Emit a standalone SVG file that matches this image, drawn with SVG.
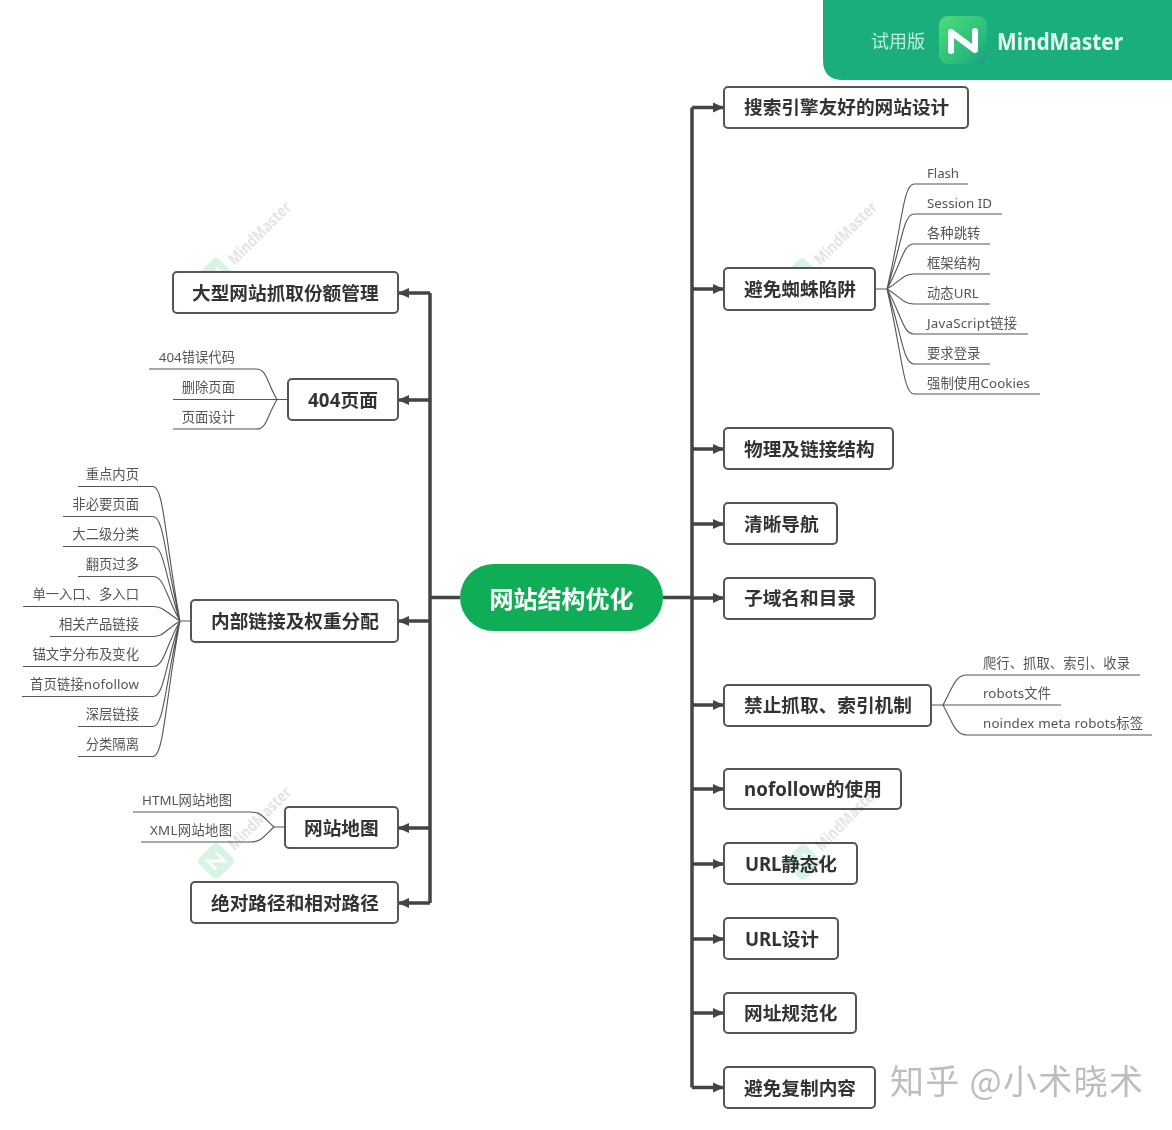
<svg xmlns="http://www.w3.org/2000/svg" width="1172" height="1130" viewBox="0 0 1172 1130">
<style>
text{font-family:"Noto Sans","Noto Sans CJK SC",sans-serif}
.n rect{fill:#fff;stroke:#555;stroke-width:2}
.n text{font-size:18.67px;font-weight:700;fill:#333}
.n text.l{font-size:13.33px;font-weight:400;fill:#555}
.n text.r{text-anchor:end}
.trunk{fill:none;stroke:#444;stroke-width:3.5}
.branch{fill:none;stroke:#555;stroke-width:1.1}
.wt{font-size:16px;font-weight:700;fill:#e4e4e4}
.wl{fill:#d6f3e3}
.wn{fill:none;stroke:#fff;stroke-width:3}
</style>
<defs>
<marker id="a" markerUnits="userSpaceOnUse" markerWidth="12" markerHeight="12" refX="11" refY="6" orient="auto"><path d="M0 1L11 6L0 11Z" fill="#444"/></marker>
<linearGradient id="g" x1="0" y1="0" x2="1" y2="1"><stop offset="0" stop-color="#4fdc78"/><stop offset="0.7" stop-color="#28b97c"/><stop offset="1" stop-color="#1a9a8c"/></linearGradient>
<g id="wm"><g transform="rotate(-45)"><rect class="wl" x="-14" y="-14" width="28" height="28" rx="5"/><path class="wn" d="M-6 6V-6L6 6V-6"/><text class="wt" x="20" y="6" textLength="82" lengthAdjust="spacingAndGlyphs">MindMaster</text></g></g>
</defs>
<rect width="1172" height="1130" fill="#fff"/>
<g id="watermarks"><use href="#wm" x="216" y="276"/><use href="#wm" x="802" y="276"/><use href="#wm" x="216" y="861"/></g>
<g id="trial-banner">
<path d="M823 0H1172V80H843Q823 80 823 60Z" fill="#19ae7b"/>
<text x="871" y="48" font-size="18" fill="#bfeedd" style="font-family:'Noto Sans CJK SC',sans-serif">试用版</text>
<rect x="939" y="16" width="48" height="48" rx="9" fill="url(#g)"/>
<path d="M951 51V32L975 50V31" fill="none" stroke="#fff" stroke-width="6" stroke-linejoin="round" stroke-linecap="round"/>
<text x="997" y="50" font-size="24" font-weight="700" fill="#e6fbf3" textLength="126" lengthAdjust="spacingAndGlyphs">MindMaster</text>
</g>
<g id="connectors">
<path class="trunk" d="M663 597.5H692M460 597.5H430M692 107.5V1087.5M430 293V903"/>
<g class="trunk">
<path marker-end="url(#a)" d="M692 107.5H724"/><path marker-end="url(#a)" d="M692 289H724"/><path marker-end="url(#a)" d="M692 449H724"/><path marker-end="url(#a)" d="M692 524H724"/><path marker-end="url(#a)" d="M692 598H724"/><path marker-end="url(#a)" d="M692 705H724"/><path marker-end="url(#a)" d="M692 789H724"/><path marker-end="url(#a)" d="M692 864H724"/><path marker-end="url(#a)" d="M692 939H724"/><path marker-end="url(#a)" d="M692 1013H724"/><path marker-end="url(#a)" d="M692 1087.5H724"/>
<path marker-end="url(#a)" d="M430 293H398"/><path marker-end="url(#a)" d="M430 400H398"/><path marker-end="url(#a)" d="M430 621H398"/><path marker-end="url(#a)" d="M430 828H398"/><path marker-end="url(#a)" d="M430 903H398"/>
</g>
<path class="branch" d="M875 289H887M887 289C902 226 903 184 914 184H968M887 289C902 244 903 214 914 214H1002M887 289C902 262 903 244 914 244H990M887 289C902 280 903 274 914 274H990M887 289C902 298 903 304 914 304H990M887 289C902 316 903 334 914 334H1028M887 289C902 334 903 364 914 364H990M887 289C902 352 903 394 914 394H1040"/>
<path class="branch" d="M191 621H180M180 621C165 540 164 486.5 153 486.5H78M180 621C165 558 164 516.5 153 516.5H63M180 621C165 576 164 546.5 153 546.5H63M180 621C165 594 164 576.5 153 576.5H78M180 621C165 612 164 606.5 153 606.5H23M180 621C165 630 164 636.5 153 636.5H50M180 621C165 648 164 666.5 153 666.5H23M180 621C165 666 164 696.5 153 696.5H22M180 621C165 684 164 726.5 153 726.5H78M180 621C165 702 164 756.5 153 756.5H78"/>
<path class="branch" d="M288 399.5H277M277 399.5C266 381 267 369 256 369H149M277 399.5H173M277 399.5C266 418 267 429 256 429H173"/>
<path class="branch" d="M285 827H274M274 827C264 818 262 812 250 812H133M274 827C264 836 262 842 250 842H141"/>
<path class="branch" d="M931 705H943M943 705C953 687 955 675 967 675H1140M943 705H1061M943 705C953 723 955 735 967 735H1152"/>
</g>
<g id="root"><rect x="460" y="564" width="203" height="67" rx="33.5" fill="#0fae56"/><text x="561.5" y="607.5" text-anchor="middle" font-size="24" font-weight="700" fill="#fff" style="font-family:'Noto Sans CJK SC',sans-serif">网站结构优化</text></g>
<g id="n-seo" class="n"><rect x="724" y="87" width="244" height="41" rx="4"/><text x="744" y="114">搜索引擎友好的网站设计</text></g>
<g id="n-spider" class="n"><rect x="724" y="268" width="151" height="42" rx="4"/><text x="744" y="296">避免蜘蛛陷阱</text>
<text class="l" x="927" y="178" textLength="32">Flash</text><text class="l" x="927" y="208" textLength="65">Session ID</text><text class="l" x="927" y="238">各种跳转</text><text class="l" x="927" y="268">框架结构</text><text class="l" x="927" y="298">动态URL</text><text class="l" x="927" y="328" textLength="90">JavaScript链接</text><text class="l" x="927" y="358">要求登录</text><text class="l" x="927" y="388" textLength="103">强制使用Cookies</text></g>
<g id="n-phys" class="n"><rect x="724" y="428" width="169" height="41" rx="4"/><text x="744" y="456">物理及链接结构</text></g>
<g id="n-nav" class="n"><rect x="724" y="503" width="113" height="41" rx="4"/><text x="744" y="531">清晰导航</text></g>
<g id="n-sub" class="n"><rect x="724" y="578" width="151" height="41" rx="4"/><text x="744" y="605">子域名和目录</text></g>
<g id="n-block" class="n"><rect x="724" y="685" width="207" height="41" rx="4"/><text x="744" y="712">禁止抓取、索引机制</text>
<text class="l" x="983" y="668" textLength="147">爬行、抓取、索引、收录</text><text class="l" x="983" y="698" textLength="68">robots文件</text><text class="l" x="983" y="728" textLength="160">noindex meta robots标签</text></g>
<g id="n-nofollow" class="n"><rect x="724" y="769" width="177" height="40" rx="4"/><text x="744" y="796" textLength="138">nofollow的使用</text></g>
<g id="n-static" class="n"><rect x="724" y="843" width="133" height="41" rx="4"/><text x="745" y="871" textLength="92">URL静态化</text></g>
<g id="n-url" class="n"><rect x="724" y="918" width="114" height="41" rx="4"/><text x="745" y="946" textLength="74">URL设计</text></g>
<g id="n-canon" class="n"><rect x="724" y="993" width="132" height="40" rx="4"/><text x="744" y="1020">网址规范化</text></g>
<g id="n-dup" class="n"><rect x="724" y="1067" width="151" height="41" rx="4"/><text x="744" y="1095">避免复制内容</text></g>
<g id="n-crawl" class="n"><rect x="173" y="272" width="225" height="41" rx="4"/><text x="192" y="300">大型网站抓取份额管理</text></g>
<g id="n-404" class="n"><rect x="288" y="379" width="110" height="41" rx="4"/><text x="308" y="407" textLength="70">404页面</text>
<text class="l r" x="235" y="362">404错误代码</text><text class="l r" x="235" y="392">删除页面</text><text class="l r" x="235" y="422">页面设计</text></g>
<g id="n-inner" class="n"><rect x="191" y="600" width="207" height="42" rx="4"/><text x="211" y="628">内部链接及权重分配</text>
<text class="l r" x="139" y="479">重点内页</text><text class="l r" x="139" y="509">非必要页面</text><text class="l r" x="139" y="539">大二级分类</text><text class="l r" x="139" y="569">翻页过多</text><text class="l r" x="139" y="599">单一入口、多入口</text><text class="l r" x="139" y="629">相关产品链接</text><text class="l r" x="139" y="659">锚文字分布及变化</text><text class="l" x="30" y="689" textLength="109">首页链接nofollow</text><text class="l r" x="139" y="719">深层链接</text><text class="l r" x="139" y="749">分类隔离</text></g>
<g id="n-map" class="n"><rect x="285" y="807" width="113" height="41" rx="4"/><text x="304" y="835">网站地图</text>
<text class="l" x="142" y="805" textLength="90">HTML网站地图</text><text class="l" x="150" y="835" textLength="82">XML网站地图</text></g>
<g id="n-path" class="n"><rect x="191" y="882" width="207" height="41" rx="4"/><text x="211" y="910">绝对路径和相对路径</text></g>
<use href="#wm" x="803" y="862" style="mix-blend-mode:multiply"/>
<text id="zhihu" x="890" y="1094" font-size="34" fill="#bdbdbd" style="font-family:'Noto Sans CJK SC',sans-serif" textLength="253">知乎 @小术晓术</text>
</svg>
